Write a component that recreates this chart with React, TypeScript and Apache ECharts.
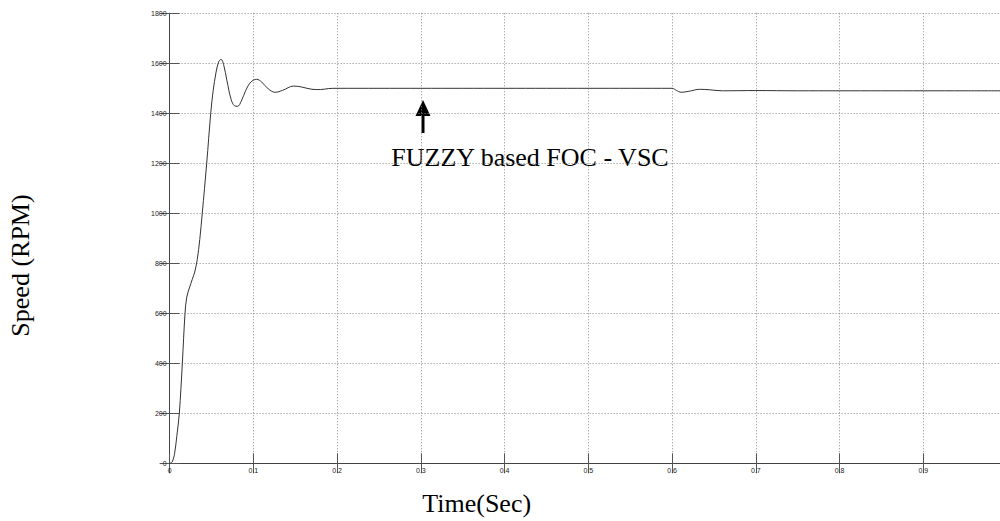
import React, { useEffect, useRef } from "react";
import * as echarts from "echarts";

const timeSec = [0, 0.003, 0.006, 0.0085, 0.0116, 0.0152, 0.0184, 0.0205, 0.024, 0.027, 0.03, 0.033, 0.036, 0.039, 0.0443, 0.0491, 0.052, 0.0555, 0.0585, 0.0614, 0.0645, 0.0685, 0.0735, 0.0775, 0.0813, 0.0855, 0.091, 0.097, 0.104, 0.11, 0.118, 0.126, 0.135, 0.148, 0.158, 0.17, 0.18, 0.19, 0.2, 0.25, 0.3, 0.35, 0.4, 0.45, 0.5, 0.55, 0.6, 0.605, 0.611, 0.62, 0.633, 0.645, 0.66, 0.7, 0.75, 0.8, 0.85, 0.9, 0.95, 1.0];
const speedRpm = [0, 5, 40, 106, 200, 400, 600, 665, 705, 735, 765, 815, 895, 1000, 1200, 1400, 1490, 1565, 1605, 1616, 1595, 1530, 1455, 1430, 1428, 1448, 1492, 1525, 1536, 1525, 1497, 1484, 1492, 1509, 1505, 1496, 1495, 1499, 1500, 1500, 1500, 1500, 1500, 1500, 1500, 1500, 1500, 1492, 1484, 1488, 1496, 1494, 1490, 1491, 1490, 1490, 1490, 1490, 1490, 1490];

const yTitle = "Speed (RPM)";
const xTitle = "Time(Sec)";
const annotation = "FUZZY based FOC - VSC";

const serif = "'Liberation Serif', 'Times New Roman', serif";
const sans = "'Liberation Sans', Arial, sans-serif";

export default function App() {
  const ref = useRef<HTMLDivElement>(null);
  useEffect(() => {
    if (!ref.current) return;
    const chart = echarts.init(ref.current, undefined, { renderer: "svg" });
    const axisLine = { show: true, lineStyle: { color: "#444", width: 1 } };
    const tick = { show: true, inside: true, length: 10, lineStyle: { color: "#555", width: 1 } };
    const split = { show: true, lineStyle: { color: "#888", width: 1, type: [1, 2] as any } };
    const plain = (v: number) => String(Math.round(v * 1000) / 1000);
    chart.setOption({
      animation: false,
      backgroundColor: "#fff",
      grid: { left: 169.6, top: 13.3, width: 837.5, height: 450, containLabel: false, outerBoundsMode: "none" },
      xAxis: [
        {
          type: "value", min: 0, max: 1, interval: 0.1, position: "bottom",
          axisLine, axisTick: tick, splitLine: split,
          axisLabel: { color: "#222", fontSize: 7, fontFamily: sans, margin: 4, formatter: plain, showMaxLabel: false },
        },
        {
          type: "value", min: 0, max: 1, interval: 0.1, position: "top",
          axisLine, axisTick: tick, splitLine: { show: false }, axisLabel: { show: false },
        },
      ],
      yAxis: [
        {
          type: "value", min: 0, max: 1800, interval: 200, position: "left",
          axisLine, axisTick: tick, splitLine: split,
          axisLabel: { color: "#222", fontSize: 7, fontFamily: sans, margin: 3, formatter: plain },
        },
        {
          type: "value", min: 0, max: 1800, interval: 200, position: "right",
          axisLine, axisTick: tick, splitLine: { show: false }, axisLabel: { show: false },
        },
      ],
      series: [
        {
          type: "line",
          data: timeSec.map((t, i) => [t, speedRpm[i]]),
          showSymbol: false,
          smooth: 0.35,
          lineStyle: { color: "#333", width: 1 },
        },
      ],
      graphic: [
        {
          type: "text", x: 20.5, y: 265.5, rotation: Math.PI / 2,
          style: { text: yTitle, font: `26px ${serif}`, fill: "#000", textAlign: "center", textVerticalAlign: "middle" },
        },
        {
          type: "text", x: 476.7, y: 503.3,
          style: { text: xTitle, font: `26px ${serif}`, fill: "#000", textAlign: "center", textVerticalAlign: "middle" },
        },
        {
          type: "text", x: 530, y: 157.5,
          style: { text: annotation, font: `26px ${serif}`, fill: "#000", textAlign: "center", textVerticalAlign: "middle" },
        },
        {
          type: "rect", shape: { x: 421.5, y: 113, width: 3, height: 20 },
          style: { fill: "#000" },
        },
        {
          type: "polygon", shape: { points: [[423, 100], [415.5, 116], [430.5, 116]] },
          style: { fill: "#000" },
        },
      ],
    });
    return () => chart.dispose();
  }, []);
  return (
    <div
      ref={ref}
      style={{ position: "fixed", left: 0, top: 0, width: 1000, height: 521, overflow: "hidden", background: "#fff" }}
    />
  );
}
